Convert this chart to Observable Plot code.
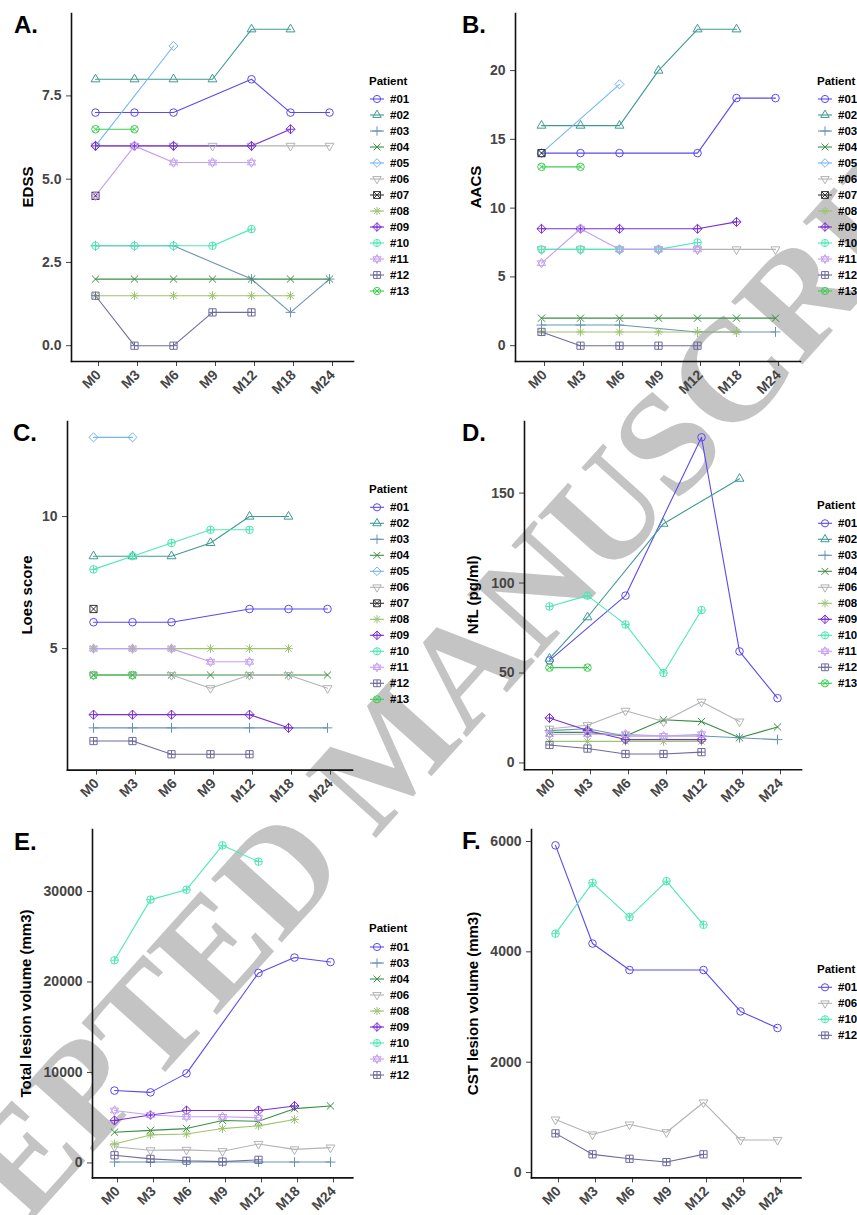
<!DOCTYPE html>
<html><head><meta charset="utf-8">
<script src="https://cdn.jsdelivr.net/npm/d3@7"></script>
<script src="https://cdn.jsdelivr.net/npm/@observablehq/plot@0.6"></script>
<style>
body{margin:0;background:#fff;}
#page{position:relative;width:857px;height:1215px;overflow:hidden;font-family:"Liberation Sans",Arial,sans-serif;background:#fff;}
.wm{position:absolute;left:388px;top:752px;transform:translate(-50%,-50%) rotate(-48deg);font-family:"Liberation Serif",serif;font-weight:bold;font-size:145px;color:#c4c4c4;white-space:nowrap;z-index:0;line-height:1;}
.panel{position:absolute;z-index:1;}
</style></head><body><div id="page"><div class="wm">ACCEPTED MANUSCRIPT</div></div>
<script>
const months = ["M0","M3","M6","M9","M12","M18","M24"];
const patients = ["#01","#02","#03","#04","#05","#06","#07","#08","#09","#10","#11","#12","#13"];
const patientColors = ["#5a4af2","#3f9a92","#6b93b6","#3a8e45","#74b5f7","#b3b3b3","#333333","#9dc46e","#7b2fd4","#4ee9b6","#c49ff3","#6e6c9d","#3ccf4f"];
const patientShapes = ["circle","triangle","plus","cross","diamond","triangleDown","squareCross","asterisk","diamondPlus","circlePlus","star","squarePlus","circleCross"];

// values per visit:        M0    M3    M6    M9    M12   M18   M24
const edss = [
  ["#01", 7,    7,    7,    null, 8,    7,    7],
  ["#02", 8,    8,    8,    8,    9.5,  9.5,  null],
  ["#03", 3,    3,    3,    null, 2,    1,    2],
  ["#04", 2,    2,    2,    2,    2,    2,    2],
  ["#05", 6,    null, 9,    null, null, null, null],
  ["#06", 6,    6,    6,    6,    6,    6,    6],
  ["#07", 4.5,  null, null, null, null, null, null],
  ["#08", 1.5,  1.5,  1.5,  1.5,  1.5,  1.5,  null],
  ["#09", 6,    6,    6,    null, 6,    6.5,  null],
  ["#10", 3,    3,    3,    3,    3.5,  null, null],
  ["#11", 4.5,  6,    5.5,  5.5,  5.5,  null, null],
  ["#12", 1.5,  0,    0,    1,    1,    null, null],
  ["#13", 6.5,  6.5,  null, null, null, null, null]
];
const aacs = [
  ["#01", 14,   14,   14,   null, 14,   18,   18],
  ["#02", 16,   16,   16,   20,   23,   23,   null],
  ["#03", 1.5,  1.5,  1.5,  null, 1,    1,    1],
  ["#04", 2,    2,    2,    2,    2,    2,    2],
  ["#05", 14,   null, 19,   null, null, null, null],
  ["#06", 7,    7,    7,    7,    7,    7,    7],
  ["#07", 14,   null, null, null, null, null, null],
  ["#08", 1,    1,    1,    1,    1,    1,    null],
  ["#09", 8.5,  8.5,  8.5,  null, 8.5,  9,    null],
  ["#10", 7,    7,    7,    7,    7.5,  null, null],
  ["#11", 6,    8.5,  7,    7,    7,    null, null],
  ["#12", 1,    0,    0,    0,    0,    null, null],
  ["#13", 13,   13,   null, null, null, null, null]
];
const loes = [
  ["#01", 6,    6,    6,    null, 6.5,  6.5,  6.5],
  ["#02", 8.5,  8.5,  8.5,  9,    10,   10,   null],
  ["#03", 2,    2,    2,    null, 2,    2,    2],
  ["#04", 4,    4,    4,    4,    4,    4,    4],
  ["#05", 13,   13,   null, null, null, null, null],
  ["#06", 4,    4,    4,    3.5,  4,    4,    3.5],
  ["#07", 6.5,  null, null, null, null, null, null],
  ["#08", 5,    5,    5,    5,    5,    5,    null],
  ["#09", 2.5,  2.5,  2.5,  null, 2.5,  2,    null],
  ["#10", 8,    8.5,  9,    9.5,  9.5,  null, null],
  ["#11", 5,    5,    5,    4.5,  4.5,  null, null],
  ["#12", 1.5,  1.5,  1,    1,    1,    null, null],
  ["#13", 4,    4,    null, null, null, null, null]
];
const nfl = [
  ["#01", 57,   null, 93,   null, 181,  62,   36],
  ["#02", 58,   81,   null, 133,  null, 158,  null],
  ["#03", 18,   19,   15,   null, 15,   14,   13],
  ["#04", 17,   17,   15,   24,   23,   14,   20],
  ["#06", 19,   21,   29,   23,   34,   23,   null],
  ["#08", 12,   12,   12,   12,   12,   null, null],
  ["#09", 25,   18,   13,   null, 13,   null, null],
  ["#10", 87,   93,   77,   50,   85,   null, null],
  ["#11", 16,   16,   16,   15,   16,   null, null],
  ["#12", 10,   8,    5,    5,    6,    null, null],
  ["#13", 53,   53,   null, null, null, null, null]
];
const totalLesion = [
  ["#01", 8000, 7800, 9900, null, 21000, 22700, 22200],
  ["#03", 100,  100,  100,  100,  100,  100,  100],
  ["#04", 3400, 3600, 3800, 4700, 4600, 6000, 6300],
  ["#06", 1800, 1400, 1450, 1300, 2100, 1500, 1700],
  ["#08", 2100, 3100, 3200, 3800, 4100, 4800, null],
  ["#09", 4700, 5300, 5800, null, 5800, 6300, null],
  ["#10", 22400, 29100, 30200, 35100, 33300, null, null],
  ["#11", 5800, 5300, 5100, 5100, 5000, null, null],
  ["#12", 850,  450,  250,  150,  350,  null, null]
];
const cstLesion = [
  ["#01", 5930, 4150, 3670, null, 3670, 2920, 2620],
  ["#06", 960,  690,  870,  730,  1270, 590,  590],
  ["#10", 4330, 5250, 4630, 5280, 4490, null, null],
  ["#12", 710,  330,  250,  190,  330,  null, null]
];

const ticksA = [0, 2.5, 5, 7.5];
const ticksB = [0, 5, 10, 15, 20];
const ticksC = [5, 10];
const ticksD = [0, 50, 100, 150];
const ticksE = [0, 10000, 20000, 30000];
const ticksF = [0, 2000, 4000, 6000];

// ggplot-like symbol shapes
const shapeDraw = {
  circle(c, r){ c.moveTo(r,0); c.arc(0,0,r,0,2*Math.PI); },
  triangle(c, r){ const a=r*1.35; c.moveTo(0,-a); c.lineTo(a*0.866,a*0.5); c.lineTo(-a*0.866,a*0.5); c.closePath(); },
  triangleDown(c, r){ const a=r*1.35; c.moveTo(0,a); c.lineTo(a*0.866,-a*0.5); c.lineTo(-a*0.866,-a*0.5); c.closePath(); },
  plus(c, r){ const a=r*1.3; c.moveTo(-a,0); c.lineTo(a,0); c.moveTo(0,-a); c.lineTo(0,a); },
  cross(c, r){ const a=r*0.95; c.moveTo(-a,-a); c.lineTo(a,a); c.moveTo(-a,a); c.lineTo(a,-a); },
  diamond(c, r){ const a=r*1.2; c.moveTo(0,-a); c.lineTo(a,0); c.lineTo(0,a); c.lineTo(-a,0); c.closePath(); },
  squareCross(c, r){ const a=r*0.95; c.rect(-a,-a,2*a,2*a); c.moveTo(-a,-a); c.lineTo(a,a); c.moveTo(-a,a); c.lineTo(a,-a); },
  asterisk(c, r){ const a=r*1.15, b=r*0.85; c.moveTo(-a,0); c.lineTo(a,0); c.moveTo(0,-a); c.lineTo(0,a); c.moveTo(-b,-b); c.lineTo(b,b); c.moveTo(-b,b); c.lineTo(b,-b); },
  diamondPlus(c, r){ const a=r*1.2; c.moveTo(0,-a); c.lineTo(a,0); c.lineTo(0,a); c.lineTo(-a,0); c.closePath(); c.moveTo(-a,0); c.lineTo(a,0); c.moveTo(0,-a); c.lineTo(0,a); },
  circlePlus(c, r){ c.moveTo(r,0); c.arc(0,0,r,0,2*Math.PI); c.moveTo(-r,0); c.lineTo(r,0); c.moveTo(0,-r); c.lineTo(0,r); },
  star(c, r){ const a=r*1.25; c.moveTo(0,-a); c.lineTo(a*0.866,a*0.5); c.lineTo(-a*0.866,a*0.5); c.closePath(); c.moveTo(0,a); c.lineTo(a*0.866,-a*0.5); c.lineTo(-a*0.866,-a*0.5); c.closePath(); },
  squarePlus(c, r){ const a=r*0.95; c.rect(-a,-a,2*a,2*a); c.moveTo(-a,0); c.lineTo(a,0); c.moveTo(0,-a); c.lineTo(0,a); },
  circleCross(c, r){ c.moveTo(r,0); c.arc(0,0,r,0,2*Math.PI); const a=r*0.707; c.moveTo(-a,-a); c.lineTo(a,a); c.moveTo(-a,a); c.lineTo(a,-a); }
};
function symbolOf(name){ return {draw(ctx, size){ shapeDraw[name](ctx, Math.sqrt(size/Math.PI)); }}; }

const FONT = "Liberation Sans, Arial, sans-serif";
const R = 3.8;

const panels = [
  {tag:"A.", title:"EDSS", data:edss, ticks:ticksA, fmt:d3.format(".1f"), left:71, right:353, top:13, bottom:361,
   labelX:14, labelY:33, titleX:32.5, legendX:369, legendTitleY:84.5, legendY0:99},
  {tag:"B.", title:"AACS", data:aacs, ticks:ticksB, fmt:d=>String(d), left:515, right:800, top:13, bottom:361,
   labelX:462, labelY:33, titleX:480.5, legendX:817, legendTitleY:84.5, legendY0:99},
  {tag:"C.", title:"Loes score", data:loes, ticks:ticksC, fmt:d=>String(d), left:67, right:352, top:420.7, bottom:769.3,
   labelX:13, labelY:441, titleX:32.3, legendX:369, legendTitleY:492.5, legendY0:507.3},
  {tag:"D.", title:"NfL (pg/ml)", data:nfl, ticks:ticksD, fmt:d=>String(d), left:523.7, right:800.7, top:420.7, bottom:769,
   labelX:462, labelY:441, titleX:478, legendX:817, legendTitleY:509, legendY0:523.3},
  {tag:"E.", title:"Total lesion volume (mm3)", data:totalLesion, ticks:ticksE, fmt:d=>String(d), left:92, right:352.3, top:829.3, bottom:1177.7,
   labelX:14, labelY:850, titleX:30.5, legendX:369, legendTitleY:932, legendY0:947},
  {tag:"F.", title:"CST lesion volume (mm3)", data:cstLesion, ticks:ticksF, fmt:d=>String(d), left:531.3, right:800.7, top:829.3, bottom:1177.7,
   labelX:462, labelY:849.3, titleX:478, legendX:817, legendTitleY:973, legendY0:987.3}
];

const page = document.getElementById("page");

function buildPanel(cfg){
  const vals = cfg.data.flatMap(r => r.slice(1).filter(v => v != null));
  const lo = d3.min(vals), hi = d3.max(vals), pad = (hi - lo) * 0.05;
  const ox = cfg.left - 75, oy = cfg.top - 10;
  const W = Math.round(cfg.right - ox + 10), H = Math.round(cfg.bottom - oy + 55);
  const series = cfg.data.map(row => {
    const idx = patients.indexOf(row[0]);
    const pts = months.map((m, i) => ({m, v: row[i + 1]})).filter(d => d.v != null);
    return {pts, color: patientColors[idx], shape: patientShapes[idx]};
  });
  const marks = [
    Plot.axisY({ticks: cfg.ticks, tickFormat: cfg.fmt, tickSize: 5, tickPadding: 5, fontSize: 14, fontWeight: "bold", color: "#454545", label: null}),
    Plot.axisX({tickSize: 5, tickRotate: -45, tickPadding: 6, dx: 3, fontSize: 14, fontWeight: "bold", color: "#454545", label: null}),
    Plot.frame({anchor: "left", stroke: "#111", strokeWidth: 1.6}),
    Plot.frame({anchor: "bottom", stroke: "#111", strokeWidth: 1.6}),
    ...series.map(s => Plot.line(s.pts, {x: "m", y: "v", stroke: s.color, strokeWidth: 1.1})),
    ...series.map(s => Plot.dot(s.pts, {x: "m", y: "v", symbol: symbolOf(s.shape), r: R, stroke: s.color, fill: "none", strokeWidth: 1}))
  ];
  const svg = Plot.plot({
    width: W, height: H,
    marginLeft: cfg.left - ox, marginTop: cfg.top - oy,
    marginRight: W - (cfg.right - ox), marginBottom: H - (cfg.bottom - oy),
    x: {type: "point", domain: months, padding: 0.6, label: null},
    y: {domain: [lo - pad, hi + pad], label: null},
    style: {background: "transparent", fontFamily: FONT, overflow: "visible"},
    marks
  });
  svg.classList.add("panel");
  svg.style.left = ox + "px";
  svg.style.top = oy + "px";
  page.appendChild(svg);
}
panels.forEach(buildPanel);

// overlay: panel tags, axis titles, legends
const ov = d3.select(page).append("svg")
  .attr("width", 857).attr("height", 1215)
  .style("position", "absolute").style("left", 0).style("top", 0).style("z-index", 2)
  .style("font-family", FONT);

panels.forEach(cfg => {
  ov.append("text").attr("x", cfg.labelX).attr("y", cfg.labelY)
    .attr("font-size", 24).attr("font-weight", "bold").attr("fill", "#000").text(cfg.tag);
  const cy = (cfg.top + cfg.bottom) / 2;
  ov.append("text").attr("transform", `translate(${cfg.titleX},${cy}) rotate(-90)`)
    .attr("text-anchor", "middle").attr("font-size", 15).attr("font-weight", "bold").attr("fill", "#000").text(cfg.title);
  const g = ov.append("g");
  g.append("text").attr("x", cfg.legendX).attr("y", cfg.legendTitleY)
    .attr("font-size", 11.5).attr("font-weight", "bold").attr("fill", "#000").text("Patient");
  cfg.data.forEach((row, i) => {
    const idx = patients.indexOf(row[0]);
    const y = cfg.legendY0 + i * 16;
    const x0 = cfg.legendX + 1;
    g.append("line").attr("x1", x0).attr("x2", x0 + 14).attr("y1", y).attr("y2", y)
      .attr("stroke", patientColors[idx]).attr("stroke-width", 1.1);
    const p = d3.path();
    shapeDraw[patientShapes[idx]](p, 3.6);
    g.append("path").attr("d", p.toString()).attr("transform", `translate(${x0 + 7},${y})`)
      .attr("fill", "none").attr("stroke", patientColors[idx]).attr("stroke-width", 1);
    g.append("text").attr("x", x0 + 20).attr("y", y + 4)
      .attr("font-size", 11.5).attr("font-weight", "bold").attr("fill", "#000").text(row[0]);
  });
});
</script>
</body></html>
